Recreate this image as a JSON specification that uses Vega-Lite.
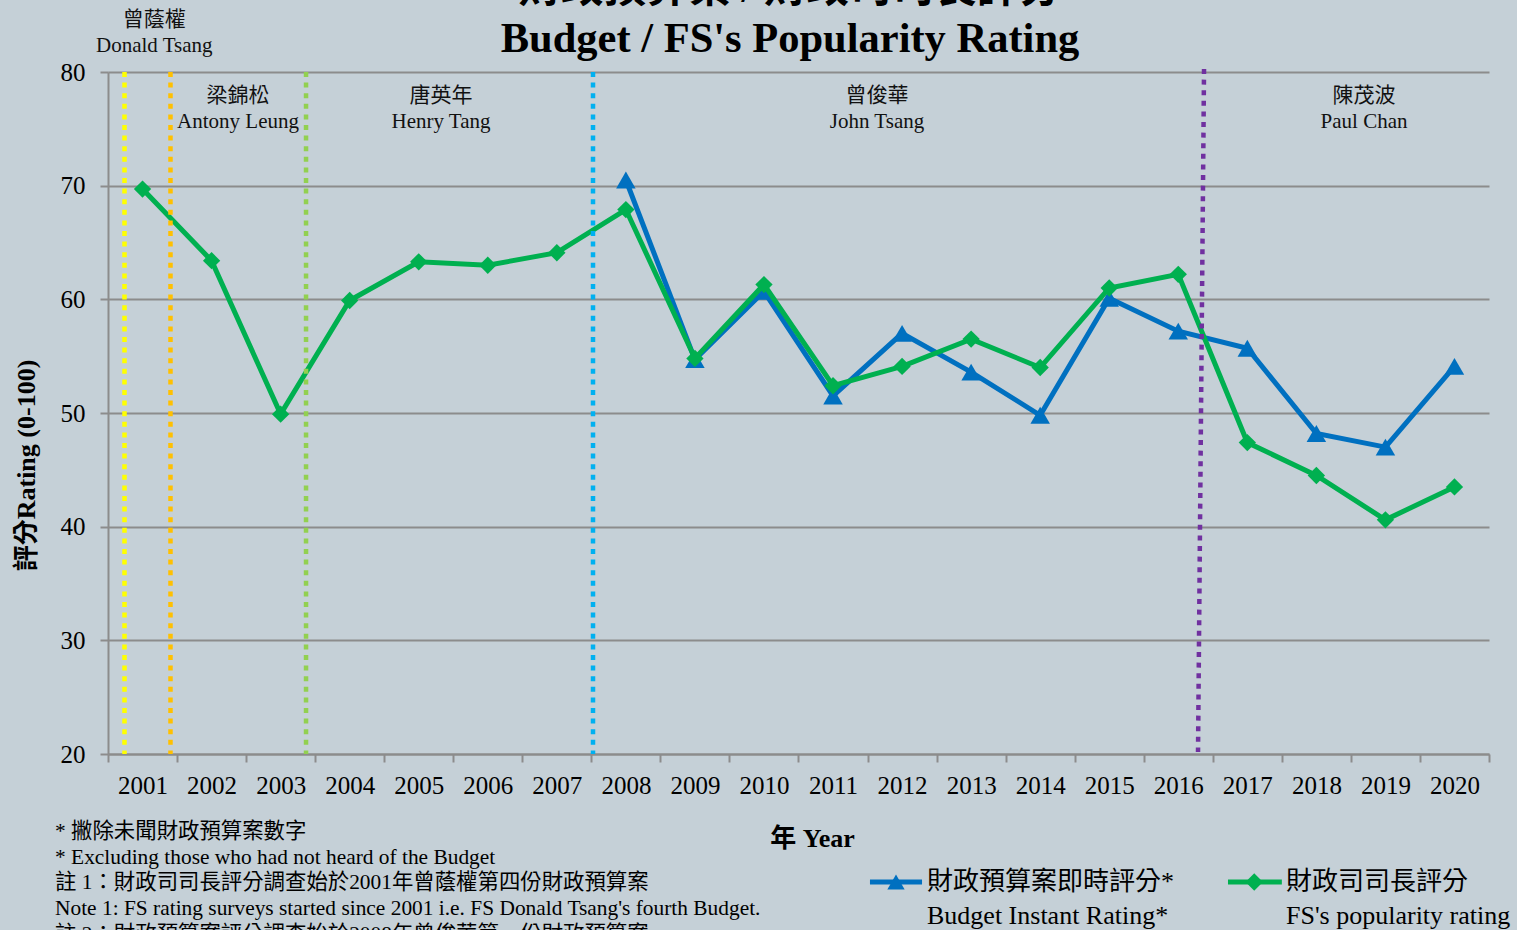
{
  "$schema": "https://vega.github.io/schema/vega-lite/v6.json",
  "width": 1381,
  "height": 682,
  "autosize": {"type": "none"},
  "padding": {"left": 108, "top": 72, "right": 28, "bottom": 176},
  "background": "#c5d0d7",
  "config": {"view": {"stroke": null}, "font": "Liberation Serif, Noto Sans CJK TC"},
  "datasets": {
    "ratings": [
      {"year": "2001", "series": "FS", "rating": 69.7},
      {"year": "2002", "series": "FS", "rating": 63.4},
      {"year": "2003", "series": "FS", "rating": 49.9},
      {"year": "2004", "series": "FS", "rating": 59.9},
      {"year": "2005", "series": "FS", "rating": 63.3},
      {"year": "2006", "series": "FS", "rating": 63.0},
      {"year": "2007", "series": "FS", "rating": 64.1},
      {"year": "2008", "series": "FS", "rating": 67.9},
      {"year": "2009", "series": "FS", "rating": 54.8},
      {"year": "2010", "series": "FS", "rating": 61.3},
      {"year": "2011", "series": "FS", "rating": 52.4},
      {"year": "2012", "series": "FS", "rating": 54.1},
      {"year": "2013", "series": "FS", "rating": 56.5},
      {"year": "2014", "series": "FS", "rating": 54.0},
      {"year": "2015", "series": "FS", "rating": 61.0},
      {"year": "2016", "series": "FS", "rating": 62.2},
      {"year": "2017", "series": "FS", "rating": 47.4},
      {"year": "2018", "series": "FS", "rating": 44.5},
      {"year": "2019", "series": "FS", "rating": 40.6},
      {"year": "2020", "series": "FS", "rating": 43.5},
      {"year": "2008", "series": "Budget", "rating": 70.5},
      {"year": "2009", "series": "Budget", "rating": 54.7},
      {"year": "2010", "series": "Budget", "rating": 60.7},
      {"year": "2011", "series": "Budget", "rating": 51.5},
      {"year": "2012", "series": "Budget", "rating": 57.0},
      {"year": "2013", "series": "Budget", "rating": 53.6},
      {"year": "2014", "series": "Budget", "rating": 49.8},
      {"year": "2015", "series": "Budget", "rating": 60.1},
      {"year": "2016", "series": "Budget", "rating": 57.2},
      {"year": "2017", "series": "Budget", "rating": 55.7},
      {"year": "2018", "series": "Budget", "rating": 48.2},
      {"year": "2019", "series": "Budget", "rating": 47.0},
      {"year": "2020", "series": "Budget", "rating": 54.1}
    ],
    "terms": [
      {"fs": "Donald Tsang", "x": 2000.739, "x2": 2000.739, "top": 80, "bottom": 20},
      {"fs": "Antony Leung", "x": 2001.405, "x2": 2001.405, "top": 80, "bottom": 20},
      {"fs": "Henry Tang", "x": 2003.368, "x2": 2003.368, "top": 80, "bottom": 20},
      {"fs": "John Tsang", "x": 2007.524, "x2": 2007.524, "top": 80, "bottom": 20},
      {"fs": "Paul Chan", "x": 2016.373, "x2": 2016.286, "top": 80.26, "bottom": 20.18}
    ],
    "headings": [
      {"x": 2010.377, "y": 86.2, "label": "財政預算案 / 財政司司長評分"},
      {"x": 2010.377, "y": 81.76, "label": "Budget / FS's Popularity Rating"}
    ],
    "names": [
      {"x": 2001.17, "y": 84.57, "label": "曾蔭權"},
      {"x": 2001.17, "y": 82.29, "label": "Donald Tsang"},
      {"x": 2002.383, "y": 77.89, "label": "梁錦松"},
      {"x": 2002.383, "y": 75.6, "label": "Antony Leung"},
      {"x": 2005.323, "y": 77.89, "label": "唐英年"},
      {"x": 2005.323, "y": 75.6, "label": "Henry Tang"},
      {"x": 2011.637, "y": 77.89, "label": "曾俊華"},
      {"x": 2011.637, "y": 75.6, "label": "John Tsang"},
      {"x": 2018.69, "y": 77.89, "label": "陳茂波"},
      {"x": 2018.69, "y": 75.6, "label": "Paul Chan"}
    ],
    "notes": [
      {"x": 1999.733, "y": 13.14, "label": "* 撇除未聞財政預算案數字"},
      {"x": 1999.733, "y": 10.85, "label": "* Excluding those who had not heard of the Budget"},
      {"x": 1999.733, "y": 8.65, "label": "註 1：財政司司長評分調查始於2001年曾蔭權第四份財政預算案"},
      {"x": 1999.733, "y": 6.36, "label": "Note 1: FS rating surveys started since 2001 i.e. FS Donald Tsang's fourth Budget."},
      {"x": 1999.733, "y": 4.08, "label": "註 2：財政預算案評分調查始於2008年曾俊華第一份財政預算案"}
    ],
    "legendKeys": [
      {"series": "Budget", "x": 2011.535, "x2": 2012.289, "xm": 2011.912, "y": 8.74},
      {"series": "FS", "x": 2016.72, "x2": 2017.5, "xm": 2017.1, "y": 8.74}
    ],
    "legendLabels": [
      {"x": 2012.361, "y": 8.74, "label": "財政預算案即時評分*"},
      {"x": 2012.361, "y": 5.75, "label": "Budget Instant Rating*"},
      {"x": 2017.56, "y": 8.74, "label": "財政司司長評分"},
      {"x": 2017.56, "y": 5.75, "label": "FS's popularity rating"}
    ]
  },
  "layer": [
    {
      "data": {"name": "ratings"},
      "transform": [{"filter": "datum.series === 'Budget'"}],
      "mark": {
        "type": "line",
        "color": "#0070c0",
        "strokeWidth": 5,
        "point": {"shape": "triangle-up", "size": 380, "filled": true, "color": "#0070c0", "opacity": 1}
      },
      "encoding": {
        "x": {
          "field": "year",
          "type": "ordinal",
          "bandPosition": 0.5,
          "scale": {
            "type": "band",
            "domain": ["2001","2002","2003","2004","2005","2006","2007","2008","2009","2010","2011","2012","2013","2014","2015","2016","2017","2018","2019","2020"],
            "paddingInner": 0,
            "paddingOuter": 0
          },
          "axis": {
            "title": "年 Year",
            "titleFont": "Liberation Serif, Noto Sans CJK TC",
            "titleFontSize": 26,
            "titleFontWeight": "bold",
            "titleColor": "#000000",
            "titleX": 704,
            "titleY": 84,
            "titleAlign": "center",
            "titleBaseline": "middle",
            "tickBand": "extent",
            "labelAngle": 0,
            "labelFont": "Liberation Serif",
            "labelFontSize": 25,
            "labelColor": "#000000",
            "labelPadding": 11,
            "tickSize": 8,
            "tickColor": "#8c8c8c",
            "tickWidth": 2,
            "domainColor": "#8c8c8c",
            "domainWidth": 2,
            "grid": false
          }
        },
        "y": {
          "field": "rating",
          "type": "quantitative",
          "scale": {"domain": [20, 80], "nice": false, "zero": false},
          "axis": {
            "title": "評分Rating (0-100)",
            "titleFont": "Liberation Serif, Noto Sans CJK TC",
            "titleFontSize": 26,
            "titleFontWeight": "bold",
            "titleColor": "#000000",
            "titleX": -82,
            "titleY": 393,
            "titleAlign": "center",
            "titleBaseline": "middle",
            "titleAngle": -90,
            "values": [20, 30, 40, 50, 60, 70, 80],
            "labelFont": "Liberation Serif",
            "labelFontSize": 25,
            "labelColor": "#000000",
            "labelPadding": 15,
            "tickSize": 8,
            "tickColor": "#8c8c8c",
            "tickWidth": 2,
            "domainColor": "#8c8c8c",
            "domainWidth": 2,
            "grid": true,
            "gridColor": "#8c8c8c",
            "gridWidth": 2
          }
        }
      }
    },
    {
      "data": {"name": "ratings"},
      "transform": [{"filter": "datum.series === 'FS'"}],
      "mark": {
        "type": "line",
        "color": "#00b050",
        "strokeWidth": 5,
        "point": {"shape": "diamond", "size": 300, "filled": true, "color": "#00b050", "opacity": 1}
      },
      "encoding": {
        "x": {
          "field": "year",
          "type": "ordinal",
          "bandPosition": 0.5,
          "scale": {
            "type": "band",
            "domain": ["2001","2002","2003","2004","2005","2006","2007","2008","2009","2010","2011","2012","2013","2014","2015","2016","2017","2018","2019","2020"],
            "paddingInner": 0,
            "paddingOuter": 0
          },
          "axis": null
        },
        "y": {"field": "rating", "type": "quantitative", "scale": {"domain": [20, 80], "nice": false, "zero": false}, "axis": null}
      }
    },
    {
      "data": {"name": "terms"},
      "mark": {"type": "rule", "strokeWidth": 4.5, "strokeDash": [5, 5.6], "strokeCap": "butt"},
      "encoding": {
        "x": {"field": "x", "type": "quantitative", "scale": {"domain": [2000.5, 2020.5], "nice": false, "zero": false}, "axis": null},
        "x2": {"field": "x2"},
        "y": {"field": "top", "type": "quantitative", "scale": {"domain": [20, 80], "nice": false, "zero": false}, "axis": null},
        "y2": {"field": "bottom"},
        "color": {
          "field": "fs",
          "type": "nominal",
          "scale": {"domain": ["Donald Tsang", "Antony Leung", "Henry Tang", "John Tsang", "Paul Chan"], "range": ["#ffff00", "#ffc000", "#92d050", "#00b0f0", "#7030a0"]},
          "legend": null
        }
      }
    },
    {
      "data": {"name": "headings"},
      "mark": {"type": "text", "fontSize": 42.5, "fontWeight": "bold", "font": "Liberation Serif, Noto Sans CJK TC", "color": "#000000", "align": "center", "baseline": "alphabetic"},
      "encoding": {
        "x": {"field": "x", "type": "quantitative", "scale": {"domain": [2000.5, 2020.5], "nice": false, "zero": false}, "axis": null},
        "y": {"field": "y", "type": "quantitative", "scale": {"domain": [20, 80], "nice": false, "zero": false}, "axis": null},
        "text": {"field": "label"}
      }
    },
    {
      "data": {"name": "names"},
      "mark": {"type": "text", "fontSize": 21, "font": "Liberation Serif, Noto Sans CJK TC", "color": "#111111", "align": "center", "baseline": "middle"},
      "encoding": {
        "x": {"field": "x", "type": "quantitative", "scale": {"domain": [2000.5, 2020.5], "nice": false, "zero": false}, "axis": null},
        "y": {"field": "y", "type": "quantitative", "scale": {"domain": [20, 80], "nice": false, "zero": false}, "axis": null},
        "text": {"field": "label"}
      }
    },
    {
      "data": {"name": "notes"},
      "mark": {"type": "text", "fontSize": 21.4, "font": "Liberation Serif, Noto Sans CJK TC", "color": "#000000", "align": "left", "baseline": "middle"},
      "encoding": {
        "x": {"field": "x", "type": "quantitative", "scale": {"domain": [2000.5, 2020.5], "nice": false, "zero": false}, "axis": null},
        "y": {"field": "y", "type": "quantitative", "scale": {"domain": [20, 80], "nice": false, "zero": false}, "axis": null},
        "text": {"field": "label"}
      }
    },
    {
      "data": {"name": "legendKeys"},
      "mark": {"type": "rule", "strokeWidth": 5},
      "encoding": {
        "x": {"field": "x", "type": "quantitative", "scale": {"domain": [2000.5, 2020.5], "nice": false, "zero": false}, "axis": null},
        "x2": {"field": "x2"},
        "y": {"field": "y", "type": "quantitative", "scale": {"domain": [20, 80], "nice": false, "zero": false}, "axis": null},
        "color": {"field": "series", "type": "nominal", "scale": {"domain": ["Budget", "FS"], "range": ["#0070c0", "#00b050"]}, "legend": null}
      }
    },
    {
      "data": {"name": "legendKeys"},
      "mark": {"type": "point", "filled": true, "opacity": 1},
      "encoding": {
        "x": {"field": "xm", "type": "quantitative", "scale": {"domain": [2000.5, 2020.5], "nice": false, "zero": false}, "axis": null},
        "y": {"field": "y", "type": "quantitative", "scale": {"domain": [20, 80], "nice": false, "zero": false}, "axis": null},
        "color": {"field": "series", "type": "nominal", "scale": {"domain": ["Budget", "FS"], "range": ["#0070c0", "#00b050"]}, "legend": null},
        "shape": {"field": "series", "type": "nominal", "scale": {"domain": ["Budget", "FS"], "range": ["triangle-up", "diamond"]}, "legend": null},
        "size": {"value": 300}
      }
    },
    {
      "data": {"name": "legendLabels"},
      "mark": {"type": "text", "fontSize": 26, "font": "Liberation Serif, Noto Sans CJK TC", "color": "#000000", "align": "left", "baseline": "middle"},
      "encoding": {
        "x": {"field": "x", "type": "quantitative", "scale": {"domain": [2000.5, 2020.5], "nice": false, "zero": false}, "axis": null},
        "y": {"field": "y", "type": "quantitative", "scale": {"domain": [20, 80], "nice": false, "zero": false}, "axis": null},
        "text": {"field": "label"}
      }
    }
  ],
  "resolve": {"scale": {"x": "independent", "y": "independent", "color": "independent", "shape": "independent"}}
}
